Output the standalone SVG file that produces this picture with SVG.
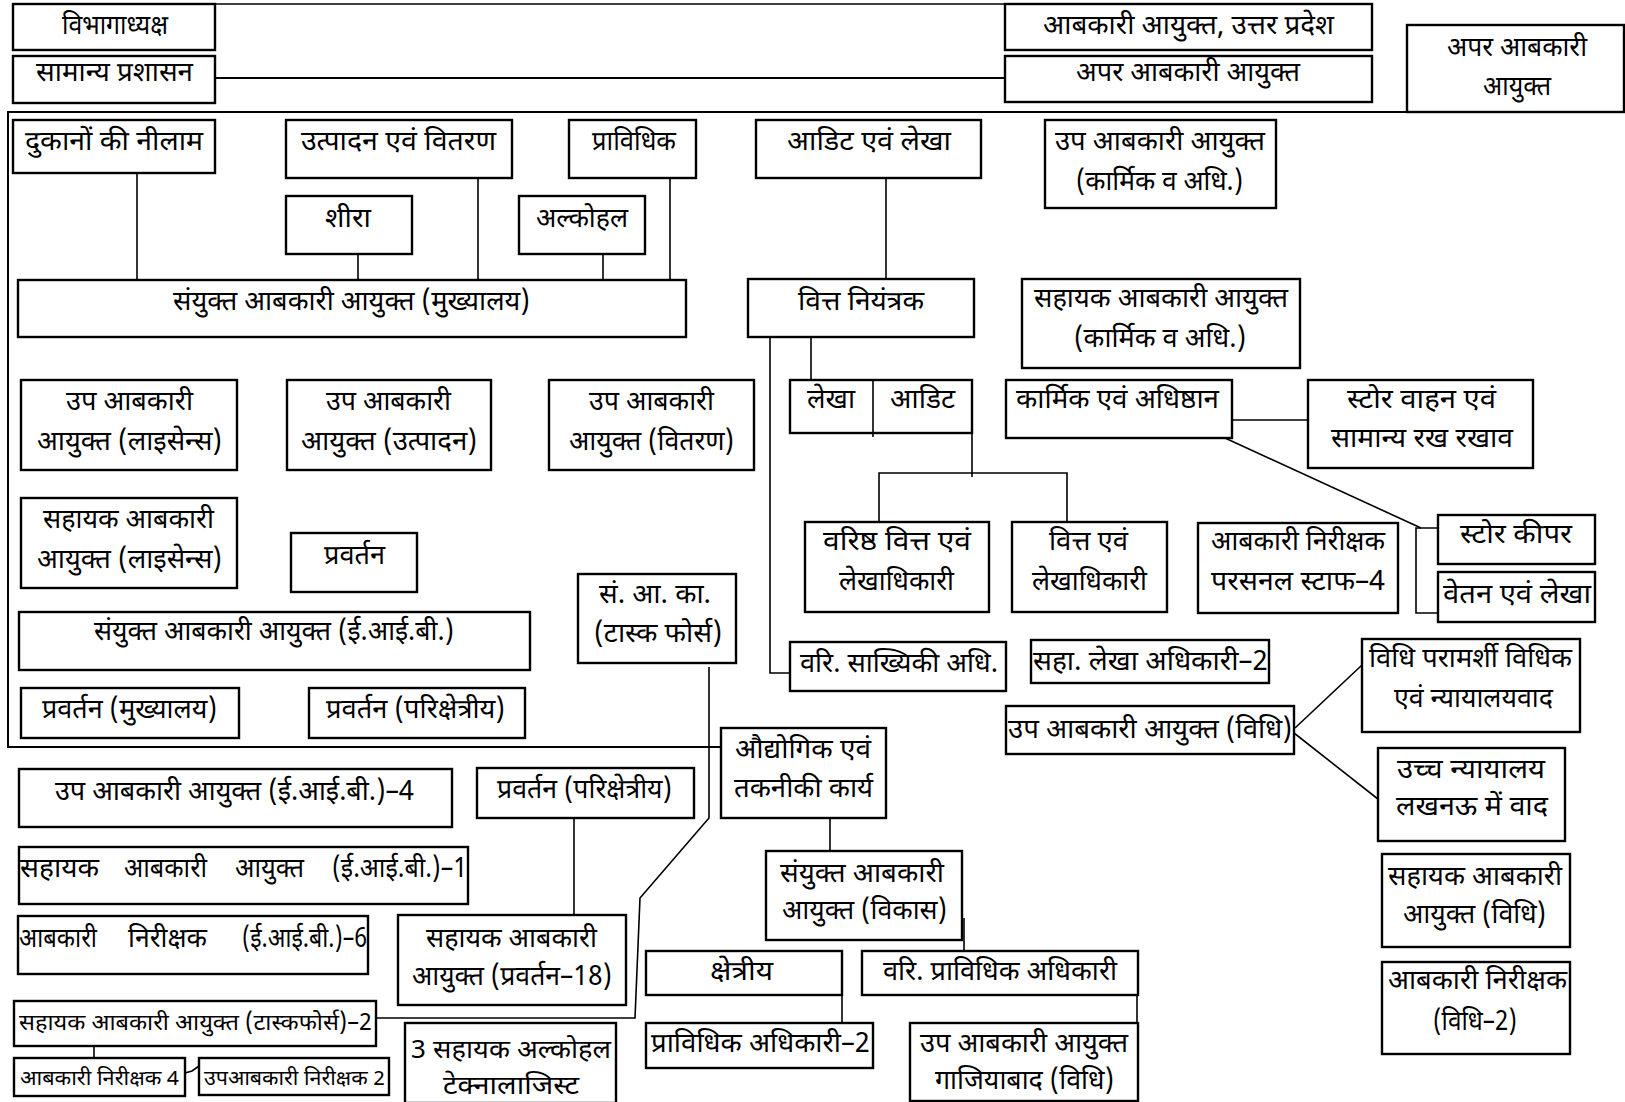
<svg xmlns="http://www.w3.org/2000/svg" width="1625" height="1102" viewBox="0 0 1625 1102">
<style>
.b{fill:#fff;stroke:#000;stroke-width:2.4}
.c{fill:none;stroke:#000;stroke-width:1.6}
text{font-family:'Noto Sans Devanagari','Lohit Devanagari','Noto Sans',sans-serif;font-size:27px;fill:#000}
.m{font-size:25px}
.s{font-size:23px}
.xs{font-size:20px}
</style>
<rect width="1625" height="1102" fill="#fff"/>
<g id="connectors">
<path class="c" d="M215,4 H1005"/>
<path class="c" d="M215,78 H1005" style="stroke-width:2"/>
<path class="c" d="M1489,112 H8 V747 H721" style="stroke-width:2"/>
<path class="c" d="M137,173 V283"/>
<path class="c" d="M478,170 V293"/>
<path class="c" d="M358,254 V280"/>
<path class="c" d="M603,252 V283"/>
<path class="c" d="M670,178 V283"/>
<path class="c" d="M886,173 V279"/>
<path class="c" d="M770,337 V673 H790"/>
<path class="c" d="M811,337 V380"/>
<path class="c" d="M972,425 V477"/>
<path class="c" d="M879,522 V473 H1067 V522"/>
<path class="c" d="M1232,420 H1313"/>
<path class="c" d="M1225,438 L1421,528"/>
<path class="c" d="M1438,528 H1416 V613 H1440"/>
<path class="c" d="M709,667 V818 L640,898 L635,1018 H376"/>
<path class="c" d="M574,818 V920"/>
<path class="c" d="M830,818 V852"/>
<path class="c" d="M964,918 V953"/>
<path class="c" d="M842,987 V1023"/>
<path class="c" d="M1137,995 V1024"/>
<path class="c" d="M1295,728 L1362,665"/>
<path class="c" d="M1294,733 L1383,803"/>
<path class="c" d="M94,1043 V1058"/>
<path class="c" d="M185,1073 L192,1071 L199,1066"/>
</g>
<g id="n1"><rect class="b" x="13" y="4" width="202" height="46"/><text x="62" y="34" textLength="106" lengthAdjust="spacingAndGlyphs">विभागाध्यक्ष</text></g>
<g id="n2"><rect class="b" x="13" y="56" width="202" height="47"/><text x="36" y="81" textLength="157" lengthAdjust="spacingAndGlyphs">सामान्य प्रशासन</text></g>
<g id="n3"><rect class="b" x="1005" y="4" width="367" height="46"/><text x="1043" y="34" textLength="291" lengthAdjust="spacingAndGlyphs">आबकारी आयुक्त, उत्तर प्रदेश</text></g>
<g id="n4"><rect class="b" x="1005" y="56" width="367" height="46"/><text x="1076" y="81" textLength="224" lengthAdjust="spacingAndGlyphs">अपर आबकारी आयुक्त</text></g>
<g id="n5"><rect class="b" x="1407" y="25" width="217" height="87"/><text x="1447" y="56" textLength="140" lengthAdjust="spacingAndGlyphs">अपर आबकारी</text><text x="1483" y="95" textLength="68" lengthAdjust="spacingAndGlyphs">आयुक्त</text></g>
<g id="n6"><rect class="b" x="13" y="120" width="202" height="53"/><text x="25" y="150" textLength="178" lengthAdjust="spacingAndGlyphs">दुकानों की नीलाम</text></g>
<g id="n7"><rect class="b" x="286" y="120" width="226" height="58"/><text x="301" y="150" textLength="195" lengthAdjust="spacingAndGlyphs">उत्पादन एवं वितरण</text></g>
<g id="n8"><rect class="b" x="569" y="120" width="127" height="58"/><text x="592" y="150" textLength="84" lengthAdjust="spacingAndGlyphs">प्राविधिक</text></g>
<g id="n9"><rect class="b" x="756" y="120" width="225" height="58"/><text x="787" y="150" textLength="164" lengthAdjust="spacingAndGlyphs">आडिट एवं लेखा</text></g>
<g id="n10"><rect class="b" x="1045" y="120" width="231" height="88"/><text x="1055" y="150" textLength="210" lengthAdjust="spacingAndGlyphs">उप आबकारी आयुक्त</text><text x="1076" y="190" textLength="167" lengthAdjust="spacingAndGlyphs">(कार्मिक व अधि.)</text></g>
<g id="n11"><rect class="b" x="286" y="196" width="126" height="58"/><text x="325" y="227" textLength="46" lengthAdjust="spacingAndGlyphs">शीरा</text></g>
<g id="n12"><rect class="b" x="519" y="196" width="126" height="58"/><text x="536" y="227" textLength="92" lengthAdjust="spacingAndGlyphs">अल्कोहल</text></g>
<g id="n13"><rect class="b" x="18" y="280" width="668" height="57"/><text x="173" y="310" textLength="357" lengthAdjust="spacingAndGlyphs">संयुक्त आबकारी आयुक्त (मुख्यालय)</text></g>
<g id="n14"><rect class="b" x="748" y="279" width="226" height="58"/><text x="798" y="310" textLength="126" lengthAdjust="spacingAndGlyphs">वित्त नियंत्रक</text></g>
<g id="n15"><rect class="b" x="1022" y="279" width="278" height="89"/><text x="1034" y="307" textLength="254" lengthAdjust="spacingAndGlyphs">सहायक आबकारी आयुक्त</text><text x="1074" y="347" textLength="172" lengthAdjust="spacingAndGlyphs">(कार्मिक व अधि.)</text></g>
<g id="n16"><rect class="b" x="21" y="380" width="216" height="90"/><text x="66" y="410" textLength="127" lengthAdjust="spacingAndGlyphs">उप आबकारी</text><text x="37" y="450" textLength="185" lengthAdjust="spacingAndGlyphs">आयुक्त (लाइसेन्स)</text></g>
<g id="n17"><rect class="b" x="287" y="380" width="204" height="90"/><text x="326" y="410" textLength="125" lengthAdjust="spacingAndGlyphs">उप आबकारी</text><text x="301" y="450" textLength="176" lengthAdjust="spacingAndGlyphs">आयुक्त (उत्पादन)</text></g>
<g id="n18"><rect class="b" x="549" y="380" width="205" height="90"/><text x="589" y="410" textLength="125" lengthAdjust="spacingAndGlyphs">उप आबकारी</text><text x="569" y="450" textLength="165" lengthAdjust="spacingAndGlyphs">आयुक्त (वितरण)</text></g>
<g id="n19"><rect class="b" x="790" y="380" width="182" height="53"/><path class="c" d="M873,380 V437"/><text x="807" y="408" textLength="48" lengthAdjust="spacingAndGlyphs">लेखा</text><text x="890" y="408" textLength="65" lengthAdjust="spacingAndGlyphs">आडिट</text></g>
<g id="n20"><rect class="b" x="1006" y="380" width="226" height="58"/><text x="1016" y="408" textLength="203" lengthAdjust="spacingAndGlyphs">कार्मिक एवं अधिष्ठान</text></g>
<g id="n21"><rect class="b" x="1308" y="380" width="225" height="88"/><text x="1347" y="408" textLength="149" lengthAdjust="spacingAndGlyphs">स्टोर वाहन एवं</text><text x="1331" y="447" textLength="182" lengthAdjust="spacingAndGlyphs">सामान्य रख रखाव</text></g>
<g id="n22"><rect class="b" x="21" y="498" width="216" height="90"/><text x="43" y="528" textLength="171" lengthAdjust="spacingAndGlyphs">सहायक आबकारी</text><text x="37" y="568" textLength="185" lengthAdjust="spacingAndGlyphs">आयुक्त (लाइसेन्स)</text></g>
<g id="n23"><rect class="b" x="291" y="533" width="126" height="59"/><text x="324" y="564" textLength="61" lengthAdjust="spacingAndGlyphs">प्रवर्तन</text></g>
<g id="n24"><rect class="b" x="805" y="522" width="184" height="90"/><text x="823" y="550" textLength="148" lengthAdjust="spacingAndGlyphs">वरिष्ठ वित्त एवं</text><text x="839" y="590" textLength="115" lengthAdjust="spacingAndGlyphs">लेखाधिकारी</text></g>
<g id="n25"><rect class="b" x="1012" y="522" width="155" height="90"/><text x="1049" y="550" textLength="79" lengthAdjust="spacingAndGlyphs">वित्त एवं</text><text x="1032" y="590" textLength="115" lengthAdjust="spacingAndGlyphs">लेखाधिकारी</text></g>
<g id="n26"><rect class="b" x="1198" y="523" width="200" height="90"/><text x="1211" y="550" textLength="174" lengthAdjust="spacingAndGlyphs">आबकारी निरीक्षक</text><text x="1211" y="590" textLength="174" lengthAdjust="spacingAndGlyphs">परसनल स्टाफ–4</text></g>
<g id="n27"><rect class="b" x="1438" y="515" width="157" height="49"/><text x="1460" y="543" textLength="112" lengthAdjust="spacingAndGlyphs">स्टोर कीपर</text></g>
<g id="n28"><rect class="b" x="1438" y="572" width="157" height="50"/><text x="1443" y="603" textLength="148" lengthAdjust="spacingAndGlyphs">वेतन एवं लेखा</text></g>
<g id="n29"><rect class="b" x="578" y="574" width="158" height="89"/><text x="599" y="603" textLength="112" lengthAdjust="spacingAndGlyphs">सं. आ. का.</text><text x="594" y="642" textLength="128" lengthAdjust="spacingAndGlyphs">(टास्क फोर्स)</text></g>
<g id="n30"><rect class="b" x="19" y="612" width="511" height="58"/><text x="94" y="640" textLength="360" lengthAdjust="spacingAndGlyphs">संयुक्त आबकारी आयुक्त (ई.आई.बी.)</text></g>
<g id="n31"><rect class="b" x="790" y="642" width="216" height="49"/><text x="800" y="672" textLength="198" lengthAdjust="spacingAndGlyphs">वरि. साख्यिकी अधि.</text></g>
<g id="n32"><rect class="b" x="1031" y="640" width="238" height="43"/><text x="1033" y="670" textLength="235" lengthAdjust="spacingAndGlyphs">सहा. लेखा अधिकारी–2</text></g>
<g id="n33"><rect class="b" x="1362" y="639" width="218" height="93"/><text x="1369" y="667" textLength="203" lengthAdjust="spacingAndGlyphs">विधि परामर्शी विधिक</text><text x="1394" y="707" textLength="159" lengthAdjust="spacingAndGlyphs">एवं न्यायालयवाद</text></g>
<g id="n34"><rect class="b" x="21" y="688" width="218" height="50"/><text x="42" y="718" textLength="175" lengthAdjust="spacingAndGlyphs">प्रवर्तन (मुख्यालय)</text></g>
<g id="n35"><rect class="b" x="309" y="688" width="216" height="50"/><text x="326" y="718" textLength="179" lengthAdjust="spacingAndGlyphs">प्रवर्तन (परिक्षेत्रीय)</text></g>
<g id="n36"><rect class="b" x="1006" y="706" width="288" height="48"/><text x="1008" y="738" textLength="284" lengthAdjust="spacingAndGlyphs">उप आबकारी आयुक्त (विधि)</text></g>
<g id="n37"><rect class="b" x="721" y="728" width="165" height="90"/><text x="735" y="758" textLength="136" lengthAdjust="spacingAndGlyphs">औद्योगिक एवं</text><text x="734" y="797" textLength="139" lengthAdjust="spacingAndGlyphs">तकनीकी कार्य</text></g>
<g id="n38"><rect class="b" x="1378" y="748" width="187" height="93"/><text x="1397" y="778" textLength="148" lengthAdjust="spacingAndGlyphs">उच्च न्यायालय</text><text x="1396" y="815" textLength="152" lengthAdjust="spacingAndGlyphs">लखनऊ में वाद</text></g>
<g id="n39"><rect class="b" x="19" y="769" width="433" height="58"/><text x="55" y="800" textLength="359" lengthAdjust="spacingAndGlyphs">उप आबकारी आयुक्त (ई.आई.बी.)–4</text></g>
<g id="n40"><rect class="b" x="477" y="768" width="217" height="50"/><text x="497" y="798" textLength="175" lengthAdjust="spacingAndGlyphs">प्रवर्तन (परिक्षेत्रीय)</text></g>
<g id="n41"><rect class="b" x="19" y="847" width="449" height="57"/><text x="20" y="877" textLength="79" lengthAdjust="spacingAndGlyphs">सहायक</text><text x="124" y="877" textLength="83" lengthAdjust="spacingAndGlyphs">आबकारी</text><text x="235" y="877" textLength="69" lengthAdjust="spacingAndGlyphs">आयुक्त</text><text x="332" y="877" textLength="135" lengthAdjust="spacingAndGlyphs">(ई.आई.बी.)–1</text></g>
<g id="n42"><rect class="b" x="766" y="851" width="196" height="89"/><text x="780" y="882" textLength="164" lengthAdjust="spacingAndGlyphs">संयुक्त आबकारी</text><text x="782" y="919" textLength="165" lengthAdjust="spacingAndGlyphs">आयुक्त (विकास)</text></g>
<g id="n43"><rect class="b" x="1382" y="854" width="188" height="93"/><text x="1388" y="885" textLength="174" lengthAdjust="spacingAndGlyphs">सहायक आबकारी</text><text x="1403" y="923" textLength="143" lengthAdjust="spacingAndGlyphs">आयुक्त (विधि)</text></g>
<g id="n44"><rect class="b" x="18" y="916" width="350" height="58"/><text x="19" y="947" textLength="78" lengthAdjust="spacingAndGlyphs">आबकारी</text><text x="128" y="947" textLength="79" lengthAdjust="spacingAndGlyphs">निरीक्षक</text><text x="242" y="947" textLength="125" lengthAdjust="spacingAndGlyphs">(ई.आई.बी.)–6</text></g>
<g id="n45"><rect class="b" x="398" y="915" width="228" height="90"/><text x="426" y="947" textLength="171" lengthAdjust="spacingAndGlyphs">सहायक आबकारी</text><text x="412" y="985" textLength="200" lengthAdjust="spacingAndGlyphs">आयुक्त (प्रवर्तन–18)</text></g>
<g id="n46"><rect class="b" x="646" y="951" width="196" height="44"/><text x="710" y="980" textLength="63" lengthAdjust="spacingAndGlyphs">क्षेत्रीय</text></g>
<g id="n47"><rect class="b" x="862" y="951" width="276" height="44"/><text x="883" y="980" textLength="234" lengthAdjust="spacingAndGlyphs">वरि. प्राविधिक अधिकारी</text></g>
<g id="n48"><rect class="b" x="1382" y="962" width="188" height="92"/><text x="1388" y="989" textLength="179" lengthAdjust="spacingAndGlyphs">आबकारी निरीक्षक</text><text x="1433" y="1030" textLength="84" lengthAdjust="spacingAndGlyphs">(विधि–2)</text></g>
<g id="n49"><rect class="b" x="14" y="1001" width="362" height="45"/><text class="s" x="19" y="1030" textLength="353" lengthAdjust="spacingAndGlyphs">सहायक आबकारी आयुक्त (टास्कफोर्स)–2</text></g>
<g id="n50"><rect class="b" x="646" y="1023" width="227" height="45"/><text x="651" y="1052" textLength="219" lengthAdjust="spacingAndGlyphs">प्राविधिक अधिकारी–2</text></g>
<g id="n51"><rect class="b" x="910" y="1023" width="228" height="78"/><text x="920" y="1052" textLength="208" lengthAdjust="spacingAndGlyphs">उप आबकारी आयुक्त</text><text x="935" y="1089" textLength="179" lengthAdjust="spacingAndGlyphs">गाजियाबाद (विधि)</text></g>
<g id="n52"><rect class="b" x="405" y="1023" width="211" height="80"/><text class="m" x="411" y="1058" textLength="200" lengthAdjust="spacingAndGlyphs">3 सहायक अल्कोहल</text><text class="m" x="443" y="1094" textLength="136" lengthAdjust="spacingAndGlyphs">टेक्नालाजिस्ट</text></g>
<g id="n53"><rect class="b" x="14" y="1058" width="171" height="38"/><text class="xs" x="20" y="1085" textLength="159" lengthAdjust="spacingAndGlyphs">आबकारी निरीक्षक 4</text></g>
<g id="n54"><rect class="b" x="199" y="1058" width="190" height="37"/><text class="xs" x="204" y="1085" textLength="181" lengthAdjust="spacingAndGlyphs">उपआबकारी निरीक्षक 2</text></g>
</svg>
